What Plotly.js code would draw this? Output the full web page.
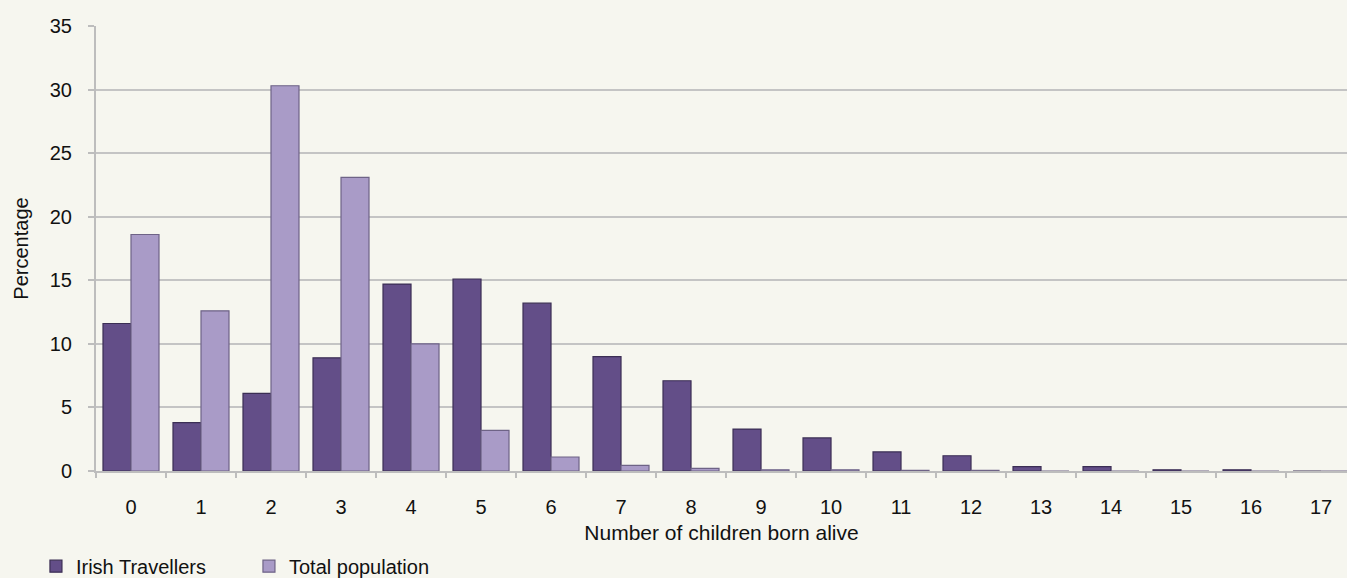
<!DOCTYPE html>
<html>
<head>
<meta charset="utf-8">
<script src="https://cdn.plot.ly/plotly-3.0.1.min.js"></script>
<style>
html,body{margin:0;padding:0;background:#f6f6ef;overflow:hidden;}
#chart{width:1347px;height:578px;}
</style>
</head>
<body>
<div id="chart"></div>
<script>
const categories = ["0","1","2","3","4","5","6","7","8","9","10","11","12","13","14","15","16","17"];
const irishTravellers = [11.6, 3.8, 6.1, 8.9, 14.7, 15.1, 13.2, 9.0, 7.1, 3.3, 2.6, 1.5, 1.2, 0.35, 0.35, 0.1, 0.1, 0];
const totalPopulation = [18.6, 12.6, 30.3, 23.1, 10.0, 3.2, 1.1, 0.45, 0.2, 0.1, 0.1, 0.05, 0.05, 0, 0, 0, 0, 0];
const yTicks = [0, 5, 10, 15, 20, 25, 30, 35];

const fam = "Liberation Sans";
const txt = "#111111";

const traces = [
  {
    type: "bar", name: "Irish Travellers", x: categories, y: irishTravellers,
    marker: {color: "#634e88", line: {color: "#3b2e54", width: 1.2}}
  },
  {
    type: "bar", name: "Total population", x: categories, y: totalPopulation,
    marker: {color: "#a99bc7", line: {color: "#6e6386", width: 1.2}}
  }
];

const layout = {
  width: 1347, height: 578,
  paper_bgcolor: "#f6f6ef", plot_bgcolor: "#f6f6ef",
  font: {family: fam, size: 20, color: txt},
  margin: {l: 96, r: 0, t: 26, b: 107, autoexpand: false},
  barmode: "group", bargap: 0.2, bargroupgap: 0,
  showlegend: true,
  legend: {orientation: "h", x: -0.048, y: -0.17, xanchor: "left", yanchor: "top",
           font: {family: fam, size: 20, color: txt}, traceorder: "normal",
           entrywidth: 168, entrywidthmode: "pixels",
           itemwidth: 30, bgcolor: "rgba(0,0,0,0)"},
  xaxis: {
    type: "category", range: [-0.5, 17.371],
    tickvals: categories, ticktext: categories,
    tickson: "boundaries", ticks: "outside", ticklen: 5, tickcolor: "#bdbdbd", tickwidth: 2,
    ticklabelstandoff: 17,
    showline: true, linecolor: "#bdbdbd", linewidth: 2, showgrid: false,
    title: {text: "Number of children born alive", font: {family: fam, size: 21, color: txt}, standoff: 8},
    tickfont: {family: fam, size: 20, color: txt}
  },
  yaxis: {
    range: [0, 35], tickvals: yTicks, ticktext: yTicks.map(String),
    ticks: "outside", ticklen: 6, tickcolor: "#bdbdbd", tickwidth: 2,
    ticklabelstandoff: 12,
    showline: true, linecolor: "#bdbdbd", linewidth: 2,
    showgrid: true, gridcolor: "#c4c4c4", gridwidth: 2, zeroline: false,
    title: {text: "Percentage", font: {family: fam, size: 20, color: txt}, standoff: 16},
    tickfont: {family: fam, size: 20, color: txt}
  }
};

Plotly.newPlot("chart", traces, layout, {displayModeBar: false, staticPlot: true});
</script>
</body>
</html>
